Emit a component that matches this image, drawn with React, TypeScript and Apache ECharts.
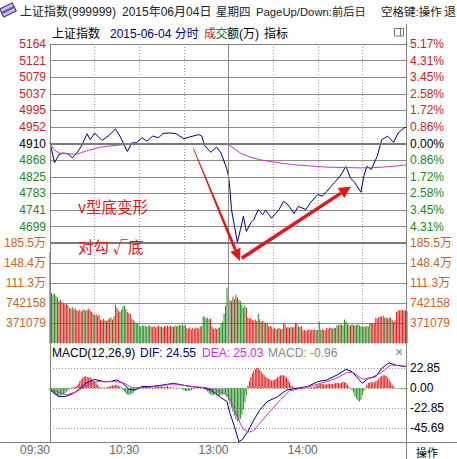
import React, { useEffect, useRef } from 'react';
import * as echarts from 'echarts';

// ---------------- data ----------------
const PREV_CLOSE = 4909.98;
const PRICE_STEP = 42.3;
// labels for steps -6..6 (bottom to top)
const PRICE_TICKS = ['', '4699', '4741', '4783', '4825', '4868', '4910', '4952', '4995', '5037', '5079', '5121', '5164'];
const PCT_TICKS = ['', '4.31%', '3.45%', '2.58%', '1.72%', '0.86%', '0.00%', '0.86%', '1.72%', '2.58%', '3.45%', '4.31%', '5.17%'];

const VOL_STEP = 37.1079; // 万
const VOL_TICKS = ['', '371079', '742158', '111.3万', '148.4万', '185.5万'];

const MACD_STEP = 22.845;
const MACD_TICKS = ['-45.69', '-22.85', '0.00', '22.85', ''];

const TIME_TICK_MINUTES = [0, 60, 120, 180];
const TIME_TICK_LABELS = ['09:30', '10:30', '13:00', '14:00'];

const PRICE_MINUTES = [0, 3, 6, 9, 12, 15, 18, 21, 25, 27, 30, 35, 39, 44, 47, 52, 55, 58, 62, 65, 69, 73, 76, 81, 85, 90, 94, 100, 102, 104, 108, 112, 115, 119, 120, 121, 122, 124, 126, 128, 130, 132, 135, 137, 140, 143, 145, 149, 154, 157, 160, 164, 167, 172, 175, 180, 183, 186, 191, 195, 199, 202, 205, 209, 211, 213, 216, 220, 223, 227, 231, 234, 238, 240];
const PRICE_VALUES = [4913, 4861, 4882, 4886, 4884, 4874, 4886, 4903, 4935, 4920, 4937, 4918, 4929, 4947, 4929, 4890, 4912, 4912, 4925, 4916, 4929, 4925, 4936, 4937, 4935, 4922, 4927, 4933, 4929, 4905, 4888, 4901, 4886, 4844, 4827, 4793, 4742, 4700, 4658, 4691, 4725, 4686, 4708, 4716, 4742, 4729, 4740, 4720, 4742, 4763, 4754, 4732, 4750, 4742, 4759, 4780, 4776, 4788, 4810, 4827, 4852, 4822, 4810, 4786, 4827, 4852, 4844, 4878, 4920, 4929, 4913, 4937, 4950, 4952];

const AVG_MINUTES = [0, 3, 6, 12, 18, 25, 34, 43, 52, 65, 90, 110, 120, 124, 128, 134, 141, 150, 164, 175, 186, 200, 209, 220, 230, 240];
const AVG_VALUES = [4910, 4893, 4886, 4884, 4883, 4892, 4901, 4905, 4908, 4909, 4909, 4909, 4907, 4897, 4886, 4876, 4869, 4863, 4856, 4853, 4850, 4849, 4848, 4849, 4852, 4856];

const VOLUME_AM = [169, 93, 90, 92, 88, 85, 78, 80, 76, 74, 72, 73, 70, 66, 64, 67, 63, 65, 61, 60, 62, 59, 61, 63, 60, 62, 64, 60, 58, 55, 52, 54, 50, 53, 44, 42, 45, 43, 41, 44, 46, 48, 44, 50, 72, 66, 60, 58, 62, 68, 70, 64, 58, 56, 54, 46, 43, 40, 37, 36, 33, 31, 34, 32, 33, 30, 32, 33, 31, 30, 32, 29, 31, 33, 30, 31, 29, 32, 31, 33, 30, 32, 31, 30, 33, 31, 32, 34, 33, 35, 32, 34, 28, 27, 29, 26, 28, 27, 29, 28, 27, 31, 32, 50, 48, 46, 47, 44, 46, 30, 27, 28, 26, 28, 29, 36, 40, 55, 70, 103, 88];
const VOLUME_PM = [80, 78, 86, 82, 90, 85, 80, 78, 72, 66, 70, 66, 48, 46, 47, 43, 42, 44, 41, 54, 44, 40, 41, 39, 37, 38, 31, 32, 30, 27, 28, 26, 27, 28, 26, 27, 37, 35, 29, 30, 28, 31, 29, 30, 37, 36, 31, 30, 32, 24, 25, 23, 24, 26, 24, 25, 25, 26, 24, 25, 40, 25, 26, 24, 25, 28, 27, 29, 28, 27, 29, 28, 34, 33, 35, 34, 33, 44, 40, 36, 34, 33, 35, 34, 33, 34, 35, 33, 31, 32, 30, 31, 32, 31, 37, 38, 36, 38, 47, 46, 48, 50, 49, 51, 47, 48, 46, 47, 48, 44, 40, 42, 58, 60, 61, 62, 61, 60, 61, 59];
const VOL_FLAGS_AM = ['r', 'ggggg', 'rrgrrrr', 'grgrr', 'rrgrrgr', 'grrr', 'rgrrr', 'rrrgrr', 'ggrg', 'g', 'rrgg', 'ggrg', 'rr', 'grg', 'gg', 'gggrgggrg', 'rrgrrgrrr', 'rgrrgrrgr', 'ggggg', 'rrrrrrrrr', 'rg', 'ggg', 'ggr', 'rrr', 'rgg', 'gggg', 'gg'];
const VOL_FLAGS_PM = ['grrg', 'rr', 'gg', 'gg', 'gr', 'rrr', 'rgrr', 'gr', 'grg', 'rr', 'rrg', 'rrgrrrg', 'gr', 'rrrgrr', 'rr', 'grr', 'rrrrrrr', 'rrgr', 'g', 'grrg', 'rrgrgrr', 'ggrgg', 'ggg', 'grggrggg', 'ggrggg', 'grrr', 'rrr', 'rrr', 'grrrgr', 'rr', 'rrrrrrrr'];

const MACD_AM = [-2, -4, -6, -7, -8, -9, -9, -8, -8, -7, -6, -4, -2, -1, 0.5, 1, 1.5, 2, 3, 5, 8, 10, 12, 13, 14, 13, 12, 13, 11, 9, 8, 6, 4, 2, 1, 0.5, 1, 0.5, 1, 1.5, 2, 3, 3.5, 3, 4, 3.5, 3, 2, 1, -2, -4, -6, -7, -7.5, -7, -6, -5, -3, -1, 0.5, 1, 2, 3, 2.5, 3, 2, 1, 0.5, 1, 0.5, 1, 2, 2, 1.5, 2.5, 2, 2, 1.5, 2, 2.5, 1.5, 1, 1, 0.5, 0.5, -0.5, 0.5, 0, -0.5, -1, -2, -3, -3, -2.5, -3, -2, -1, -0.5, 0.5, 0.5, 1, 0.5, 0, -0.5, -1, -2, -4, -6, -7, -8, -7, -6, -7, -8, -8.5, -8, -7, -6, -7, -10, -14];
const MACD_PM = [-18, -22, -27, -31, -35, -38, -37, -35, -30, -24, -16, -8, 3, 8, 13, 17, 20, 22, 23.5, 23, 21, 19, 17, 15, 13, 12, 11, 10, 9, 9, 10, 11, 12.5, 13.5, 14.5, 15, 15, 14, 12, 10, 7, 4, 2, 1, 0.5, 0.5, 1, 0.5, 0.5, 1, 0.5, 1, 0.5, 1, 1.5, 1, 1.5, 2, 3, 4, 4.5, 5, 5, 4.5, 4, 4.5, 5, 5.5, 5, 4.5, 5, 6, 6.5, 6, 5.5, 6.5, 7.5, 7, 6, 4, 2, 0.5, -2, -5, -9, -12, -14, -15, -13, -8, -3, 0.5, 4, 6, 7, 7, 6.5, 7, 8, 9, 11, 13, 14, 15, 15, 14, 12, 10, 7, 4, 2, 0.5, 0, -0.5, -0.5, -1, -1, -0.5, -1, -0.96];

const DIF_MINUTES = [0, 6, 10, 15, 19, 24, 30, 36, 40, 45, 49, 53, 57, 62, 67, 76, 83, 89, 95, 103, 108, 114, 119, 121, 124, 127, 129, 133, 137, 141, 146, 153, 159, 166, 173, 180, 186, 193, 199, 203, 210, 214, 219, 223, 228, 232, 240];
const DIF_VALUES = [-1, -9.5, -9.5, -6.5, -2, 5.7, 10.3, 7.6, 7.6, 9.5, 5.7, -1, -2, 1.9, 1.9, 3.8, 5.7, 3.8, 1.9, 0.7, -2, -9.5, -15.3, -28.6, -43.8, -61, -59, -49.5, -36.2, -24.8, -15.3, -9.5, -2, 0, 1.9, 7.6, 9.5, 15.2, 21.7, 19, 5.7, 11.4, 13.3, 22.8, 29.2, 26.6, 24.55];
const DEA_MINUTES = [0, 11, 18, 25, 31, 43, 49, 55, 65, 83, 96, 105, 112, 119, 121, 124, 127, 130, 134, 137, 141, 148, 155, 161, 173, 182, 191, 200, 204, 210, 215, 222, 229, 240];
const DEA_VALUES = [-1, -7.6, -3.8, 3.8, 7.6, 7.6, 6.5, 0.7, 0.7, 4.9, 1.9, 0.7, -2, -7.6, -12, -24, -37, -47, -50, -48, -40, -26, -13, -3, 1.5, 5.7, 10.3, 18.3, 17.9, 10.3, 11.4, 17.1, 26.6, 25.03];

// ---------------- styles ----------------
const FONT = '"Liberation Sans", "Noto Sans CJK SC", sans-serif';
const CJK = '"Noto Sans CJK SC", sans-serif';
const RED = '#c81e1e';
const GREEN = '#1a881a';
const BAR_RED = '#e41a1a';
const BAR_GREEN = '#1f8f1f';
const NAVY = '#000080';
const MAGENTA = '#d030d0';
const ORANGE = '#c8641e';
const GRID = '#8c8c8c';
const ANNOT = '#e01818';

function arrow(x1: number, y1: number, x2: number, y2: number, w1: number, w2: number, headLen: number, headHalf: number) {
  const dx = x2 - x1, dy = y2 - y1, L = Math.hypot(dx, dy);
  const ux = dx / L, uy = dy / L, nx = -uy, ny = ux;
  const bx = x2 - ux * headLen, by = y2 - uy * headLen;
  const shaft = [[x1 + nx * w1 / 2, y1 + ny * w1 / 2], [bx + nx * w2 / 2, by + ny * w2 / 2], [bx - nx * w2 / 2, by - ny * w2 / 2], [x1 - nx * w1 / 2, y1 - ny * w1 / 2]];
  const head = [[x2, y2], [bx + nx * headHalf, by + ny * headHalf], [bx - nx * headHalf, by - ny * headHalf]];
  return [
    { type: 'polygon', z: 100, shape: { points: shaft }, style: { fill: ANNOT } },
    { type: 'polygon', z: 100, shape: { points: head }, style: { fill: ANNOT } },
  ];
}

function txt(text: string, x: number, y: number, fill: string, fontSize = 12, family = FONT, align = 'left') {
  return { type: 'text', z: 100, style: { text, x, y, fill, fontSize, fontFamily: family, verticalAlign: 'middle', align } };
}
function hline(x1: number, x2: number, y: number, color = '#808080', w = 1) {
  return { type: 'line', z: 90, shape: { x1, y1: y, x2, y2: y }, style: { stroke: color, lineWidth: w } };
}
function vline(x: number, y1: number, y2: number, color = '#808080', w = 1) {
  return { type: 'line', z: 90, shape: { x1: x, y1, x2: x, y2 }, style: { stroke: color, lineWidth: w } };
}

function buildOption() {
  const volume = VOLUME_AM.concat(VOLUME_PM);
  const flags = (VOL_FLAGS_AM.join('') + VOL_FLAGS_PM.join('')).split('');
  const macd = MACD_AM.concat(MACD_PM);
  const toStep = (p: number) => (p - PREV_CLOSE) / PRICE_STEP;

  const xBase = (gridIndex: number, split: boolean) => ({
    type: 'value', gridIndex, min: 0, max: 240, interval: 30,
    axisLine: { show: false }, axisTick: { show: false }, axisLabel: { show: false },
    splitLine: { show: split, showMinLine: false, showMaxLine: false, lineStyle: { color: '#9a9a9a', type: [1, 2], width: 1 } },
  });

  const priceColor = (v: any) => {
    const s = Math.round(Number(v));
    return s > 0 ? RED : s < 0 ? GREEN : '#000';
  };

  return {
    animation: false,
    backgroundColor: '#fff',
    textStyle: { fontFamily: FONT },
    grid: [
      { left: 50, top: 44, width: 357, height: 199.2 },
      { left: 50, top: 243.2, width: 357, height: 100 },
      { left: 50, top: 348.3, width: 357, height: 80 },
    ],
    xAxis: [
      xBase(0, true),
      xBase(1, true),
      {
        ...xBase(2, false),
        axisLabel: {
          show: true, showMinLabel: true, showMaxLabel: true, align: 'right', margin: 16,
          color: '#666', fontSize: 12, fontFamily: FONT,
          formatter: (v: number) => {
            const i = TIME_TICK_MINUTES.indexOf(Math.round(v));
            return i >= 0 ? TIME_TICK_LABELS[i] : '';
          },
        },
      },
    ],
    yAxis: [
      {
        type: 'value', gridIndex: 0, min: -6, max: 6, interval: 1, position: 'left',
        axisLine: { show: false }, axisTick: { show: false },
        axisLabel: { margin: 4, fontSize: 12, fontFamily: FONT, color: priceColor, formatter: (v: number) => PRICE_TICKS[Math.round(v) + 6] },
        splitLine: { show: true, showMinLine: false, lineStyle: { color: GRID, width: 1 } },
      },
      {
        type: 'value', gridIndex: 0, min: -6, max: 6, interval: 1, position: 'right',
        axisLine: { show: false }, axisTick: { show: false },
        axisLabel: { margin: 3, fontSize: 12, fontFamily: FONT, color: priceColor, formatter: (v: number) => PCT_TICKS[Math.round(v) + 6] },
        splitLine: { show: false },
      },
      {
        type: 'value', gridIndex: 1, min: 0, max: 5 * VOL_STEP, interval: VOL_STEP, position: 'left',
        axisLine: { show: false }, axisTick: { show: false },
        axisLabel: { margin: 4, fontSize: 12, fontFamily: FONT, color: ORANGE, formatter: (v: number) => VOL_TICKS[Math.round(v / VOL_STEP)] },
        splitLine: { show: true, showMinLine: false, showMaxLine: false, lineStyle: { color: GRID, width: 1 } },
      },
      {
        type: 'value', gridIndex: 1, min: 0, max: 5 * VOL_STEP, interval: VOL_STEP, position: 'right',
        axisLine: { show: false }, axisTick: { show: false },
        axisLabel: { margin: 3, fontSize: 12, fontFamily: FONT, color: ORANGE, formatter: (v: number) => VOL_TICKS[Math.round(v / VOL_STEP)] },
        splitLine: { show: false },
      },
      {
        type: 'value', gridIndex: 2, min: -2 * MACD_STEP, max: 2 * MACD_STEP, interval: MACD_STEP, position: 'right',
        axisLine: { show: false }, axisTick: { show: false },
        axisLabel: { margin: 3, fontSize: 12, fontFamily: FONT, color: '#000', formatter: (v: number) => MACD_TICKS[Math.round(v / MACD_STEP) + 2] },
        splitLine: { show: true, showMaxLine: false, lineStyle: { color: GRID, width: 1, type: [1, 2] } },
      },
    ],
    series: [
      {
        type: 'line', xAxisIndex: 0, yAxisIndex: 0, z: 1, data: [[0, 0]], showSymbol: false,
        lineStyle: { opacity: 0 }, silent: true,
        markLine: {
          silent: true, symbol: 'none', label: { show: false }, animation: false,
          data: [
            { yAxis: 0, lineStyle: { color: '#7a7a7a', width: 2, type: 'solid' } },
            { yAxis: -6, lineStyle: { color: '#7a7a7a', width: 2, type: 'solid' } },
            { xAxis: 120, lineStyle: { color: '#8a8a8a', width: 1, type: 'solid' } },
          ],
        },
      },
      {
        type: 'line', xAxisIndex: 1, yAxisIndex: 2, z: 1, data: [[0, 0]], showSymbol: false,
        lineStyle: { opacity: 0 }, silent: true,
        markLine: {
          silent: true, symbol: 'none', label: { show: false }, animation: false,
          data: [{ xAxis: 120, lineStyle: { color: '#8a8a8a', width: 1, type: 'solid' } }],
        },
      },
      {
        type: 'line', xAxisIndex: 0, yAxisIndex: 0, z: 3, showSymbol: false, clip: false,
        data: PRICE_MINUTES.map((m, i) => [m, toStep(PRICE_VALUES[i])]),
        lineStyle: { color: NAVY, width: 1 },
      },
      {
        type: 'line', xAxisIndex: 0, yAxisIndex: 0, z: 4, showSymbol: false,
        data: AVG_MINUTES.map((m, i) => [m, toStep(AVG_VALUES[i])]),
        lineStyle: { color: MAGENTA, width: 1 },
      },
      {
        type: 'bar', xAxisIndex: 1, yAxisIndex: 2, barWidth: 1, z: 3,
        data: volume.map((v, i) => ({ value: [i, v], itemStyle: { color: flags[i] === 'g' ? BAR_GREEN : BAR_RED } })),
      },
      {
        type: 'bar', xAxisIndex: 2, yAxisIndex: 4, barWidth: 1, z: 3,
        data: macd.map((v, i) => ({ value: [i, v], itemStyle: { color: v >= 0 ? BAR_RED : BAR_GREEN } })),
      },
      {
        type: 'line', xAxisIndex: 2, yAxisIndex: 4, z: 4, showSymbol: false, clip: false,
        data: DIF_MINUTES.map((m, i) => [m, DIF_VALUES[i]]),
        lineStyle: { color: NAVY, width: 1 },
      },
      {
        type: 'line', xAxisIndex: 2, yAxisIndex: 4, z: 5, showSymbol: false, clip: false,
        data: DEA_MINUTES.map((m, i) => [m, DEA_VALUES[i]]),
        lineStyle: { color: MAGENTA, width: 1 },
      },
    ],
    graphic: [
      // title bar icon
      { type: 'rect', z: 100, x: 8, y: 10, rotation: 0.45, shape: { x: -7, y: -4.5, width: 14, height: 9 }, style: { fill: '#c8b8e6', stroke: '#3a2a5a', lineWidth: 1 } },
      { type: 'rect', z: 101, x: 8, y: 10, rotation: 0.45, shape: { x: -7, y: -1, width: 14, height: 2 }, style: { fill: '#6a4a9a' } },
      txt('上证指数(999999)', 20, 12, '#222'),
      txt('2015年06月04日', 122, 12, '#222'),
      txt('星期四', 216, 12, '#222', 11.5),
      txt('PageUp/Down:前后日', 256, 12, '#222', 11.3),
      txt('空格键:操作', 381, 12, '#222', 11.5),
      txt('退', 444, 12, '#222'),
      // second header line
      txt('上证指数', 52, 34, '#000'),
      txt('2015-06-04 分时', 110, 34, NAVY),
      txt('成', 204, 34, '#d01010'),
      txt('交', 215.5, 34, '#108010'),
      txt('额(万)', 227, 34, '#000'),
      txt('指标', 264, 34, '#000'),
      { type: 'rect', z: 100, shape: { x: 394.5, y: 28.5, width: 9, height: 7.5 }, style: { fill: 'none', stroke: '#777', lineWidth: 1 } },
      vline(400.5, 28.5, 36, '#777'),
      // frame
      vline(50.5, 44, 443),
      vline(406.5, 24, 459),
      hline(50, 407, 44.5),
      hline(0, 457, 442.5),
      // MACD header
      txt('MACD(12,26,9)', 52, 352.5, '#000'),
      txt('DIF: 24.55', 140, 352.5, NAVY),
      txt('DEA: 25.03', 202, 352.5, MAGENTA),
      txt('MACD: -0.96', 268, 352.5, '#888'),
      txt('×', 395, 352, '#888', 14),
      txt('操作', 416, 451.5, '#000', 11, CJK),
      // annotations
      txt('v型底变形', 78, 206, ANNOT, 15.5, CJK),
      txt('对勾 √底', 78, 246, ANNOT, 15.5, CJK),
      ...arrow(193.3, 148.3, 240, 261, 0.8, 3, 12, 5.5),
      ...arrow(241.7, 258.3, 351, 186.5, 3.5, 3.5, 12, 6),
    ],
  };
}

export default function App() {
  const ref = useRef<HTMLDivElement>(null);
  useEffect(() => {
    const chart = echarts.init(ref.current as HTMLDivElement, null, { renderer: 'svg' });
    chart.setOption(buildOption() as any);
    return () => chart.dispose();
  }, []);
  return <div ref={ref} style={{ position: 'fixed', left: 0, top: 0, width: 457, height: 459, background: '#fff' }} />;
}
